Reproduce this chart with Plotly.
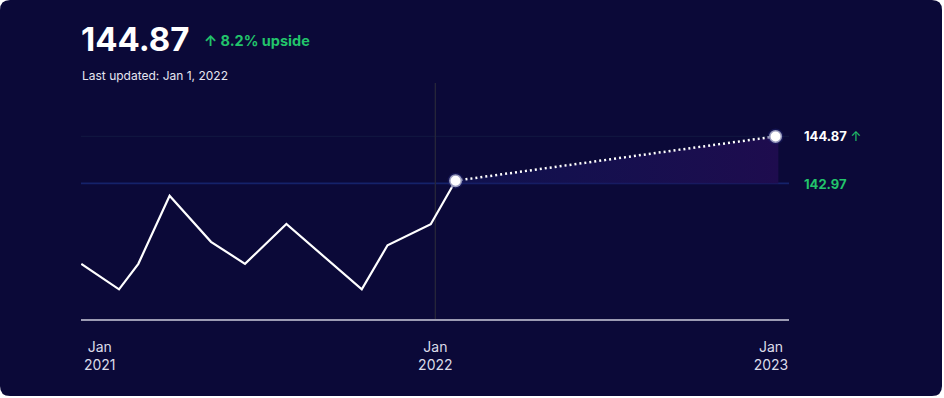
import plotly.graph_objects as go

# ---- data ----
hist_dates = ["2020-12-12", "2021-01-22", "2021-02-12", "2021-03-18", "2021-05-02",
              "2021-06-08", "2021-07-23", "2021-10-13", "2021-11-10", "2021-12-27",
              "2022-01-23"]
hist_values = [139.72, 138.69, 139.72, 142.47, 140.61, 139.72, 141.33, 138.69,
               140.47, 141.32, 143.08]
forecast_dates = ["2022-01-23", "2023-01-06"]
forecast_values = [143.08, 144.87]
current_price = 142.97
target_price = 144.87
upside_text = "8.2% upside"
updated_text = "Last updated: Jan 1, 2022"
tick_dates = ["2021-01-01", "2022-01-01", "2023-01-01"]
tick_labels = ["Jan<br>2021", "Jan<br>2022", "Jan<br>2023"]
divider_date = "2022-01-01"

W, H = 944, 398
BG = "#0b0938"
GREEN = "#22c46b"
FONT = "Inter"


def px(x):
    return x / W


def py(y):
    return 1 - y / H


fig = go.Figure()

# baseline for the forecast fill
fig.add_trace(go.Scatter(
    x=[forecast_dates[0], "2023-01-09"], y=[current_price, current_price],
    mode="lines", line=dict(width=0), hoverinfo="skip", showlegend=False))
# forecast area with gradient fill
fig.add_trace(go.Scatter(
    x=forecast_dates + ["2023-01-09"], y=forecast_values + [forecast_values[-1]],
    mode="lines", line=dict(color="rgba(0,0,0,0)", width=0),
    fill="tonexty",
    fillgradient=dict(type="horizontal",
                      colorscale=[[0, "rgba(20,22,90,0.6)"], [1, "#1e0c4e"]]),
    hoverinfo="skip", showlegend=False))
# forecast dotted line
fig.add_trace(go.Scatter(
    x=forecast_dates, y=forecast_values, mode="lines",
    line=dict(color="white", width=2.5, dash="2px,3px"),
    showlegend=False))
# history line
fig.add_trace(go.Scatter(
    x=hist_dates, y=hist_values, mode="lines",
    line=dict(color="white", width=2.2), showlegend=False))
# markers
fig.add_trace(go.Scatter(
    x=forecast_dates, y=forecast_values, mode="markers",
    marker=dict(color="white", size=13,
                line=dict(color="rgba(30,36,110,0.45)", width=3)),
    showlegend=False))

# card background
r = 10
x0, x1, y0, y1 = 0, 942, 0, 396
path = (f"M {px(x0 + r)},{py(y0)} L {px(x1 - r)},{py(y0)} "
        f"Q {px(x1)},{py(y0)} {px(x1)},{py(y0 + r)} "
        f"L {px(x1)},{py(y1 - r)} Q {px(x1)},{py(y1)} {px(x1 - r)},{py(y1)} "
        f"L {px(x0 + r)},{py(y1)} Q {px(x0)},{py(y1)} {px(x0)},{py(y1 - r)} "
        f"L {px(x0)},{py(y0 + r)} Q {px(x0)},{py(y0)} {px(x0 + r)},{py(y0)} Z")
shapes = [
    dict(type="path", path=path, xref="paper", yref="paper",
         fillcolor=BG, line=dict(width=0), layer="below"),
    dict(type="line", xref="x domain", yref="y", x0=0, x1=1,
         y0=target_price, y1=target_price,
         line=dict(color="#10153f", width=1.2), layer="below"),
    dict(type="line", xref="x domain", yref="y", x0=0, x1=1,
         y0=current_price, y1=current_price,
         line=dict(color="#15226a", width=1.8), layer="below"),
    dict(type="line", xref="x", yref="y domain", x0=divider_date, x1=divider_date,
         y0=0, y1=1, line=dict(color="#27263a", width=1.3), layer="below"),
]

annotations = [
    dict(text=f"<b>{target_price:.2f}</b>", x=px(79), y=py(39), xref="paper", yref="paper",
         xanchor="left", yanchor="middle", showarrow=False,
         font=dict(family=FONT, size=33, color="white")),
    dict(text=f"<b>↑ {upside_text}</b>", x=px(202), y=py(41), xref="paper", yref="paper",
         xanchor="left", yanchor="middle", showarrow=False,
         font=dict(family=FONT, size=14.5, color=GREEN)),
    dict(text=updated_text, x=px(80), y=py(76), xref="paper", yref="paper",
         xanchor="left", yanchor="middle", showarrow=False,
         font=dict(family=FONT, size=12, color="#e6e6f0")),
    dict(text=f"<b>{target_price:.2f}</b> <span style='color:{GREEN}'>↑</span>",
         x=px(802), y=target_price, xref="paper", yref="y",
         xanchor="left", yanchor="middle", showarrow=False,
         font=dict(family=FONT, size=13, color="white")),
    dict(text=f"<b>{current_price:.2f}</b>",
         x=px(802), y=current_price - 0.02, xref="paper", yref="y",
         xanchor="left", yanchor="middle", showarrow=False,
         font=dict(family=FONT, size=13, color=GREEN)),
]

fig.update_layout(
    width=W, height=H,
    margin=dict(l=0, r=0, t=0, b=0),
    paper_bgcolor="white", plot_bgcolor="rgba(0,0,0,0)",
    shapes=shapes, annotations=annotations,
    font=dict(family=FONT),
    xaxis=dict(domain=[px(81), px(789)], type="date",
               range=["2020-12-11 15:36", "2023-01-20 14:24"],
               tickvals=tick_dates, ticktext=tick_labels,
               tickfont=dict(family=FONT, size=14, color="#dcdce8"),
               showgrid=False, zeroline=False,
               showline=True, linecolor="#9c9bb3", linewidth=2,
               ticks="", ticklabelstandoff=14),
    yaxis=dict(domain=[py(319), py(83)], range=[137.49, 147.03],
               showgrid=False, zeroline=False, showticklabels=False,
               showline=False, ticks=""),
    hovermode=False,
)

fig.write_html("out.html", config={"displayModeBar": False},
               post_script="document.body.style.margin='0';")
